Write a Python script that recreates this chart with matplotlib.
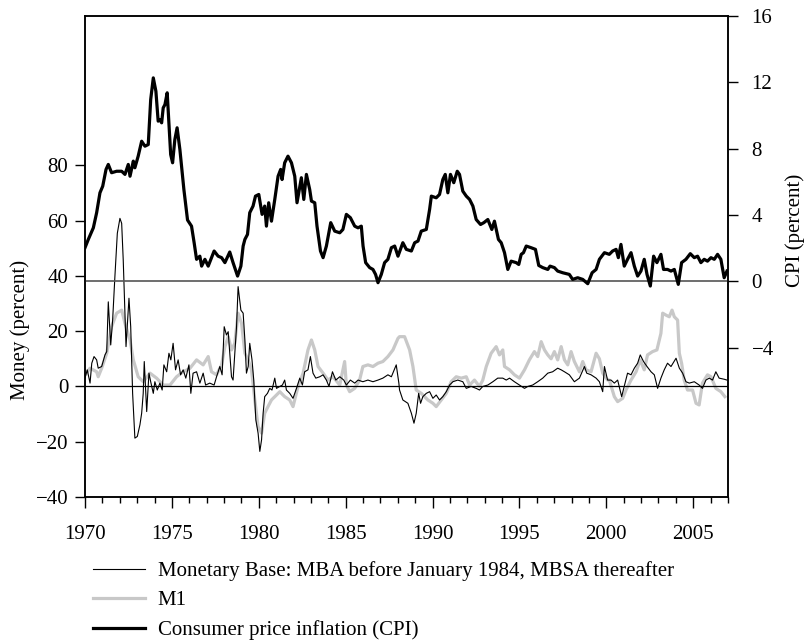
import matplotlib
matplotlib.use("Agg")
import matplotlib.pyplot as plt
from matplotlib.ticker import MultipleLocator
from matplotlib.lines import Line2D

plt.rcParams['font.family'] = ['Liberation Serif', 'DejaVu Serif']

# monetary base growth (percent)
mb_years = [1970.00, 1970.13, 1970.29, 1970.39, 1970.52, 1970.67, 1970.76, 1970.96, 1971.15, 1971.25,
            1971.34, 1971.48, 1971.59, 1971.72, 1971.86, 1972.01, 1972.11, 1972.20, 1972.26, 1972.36,
            1972.53, 1972.63, 1972.74, 1972.87, 1973.01, 1973.16, 1973.26, 1973.35, 1973.41, 1973.55,
            1973.68, 1973.78, 1973.93, 1974.02, 1974.16, 1974.31, 1974.44, 1974.54, 1974.70, 1974.83,
            1974.94, 1975.07, 1975.21, 1975.36, 1975.50, 1975.65, 1975.80, 1975.98, 1976.09, 1976.22,
            1976.42, 1976.61, 1976.80, 1976.94, 1977.18, 1977.43, 1977.57, 1977.76, 1977.89, 1978.01,
            1978.14, 1978.24, 1978.43, 1978.52, 1978.62, 1978.72, 1978.81, 1978.97, 1979.10, 1979.20,
            1979.29, 1979.39, 1979.48, 1979.61, 1979.71, 1979.83, 1979.96, 1980.06, 1980.16, 1980.25,
            1980.34, 1980.50, 1980.63, 1980.76, 1980.92, 1981.02, 1981.21, 1981.36, 1981.49, 1981.59,
            1981.78, 1981.97, 1982.17, 1982.36, 1982.51, 1982.64, 1982.83, 1982.97, 1983.12, 1983.28,
            1983.51, 1983.70, 1983.89, 1984.04, 1984.24, 1984.43, 1984.66, 1984.89, 1985.04, 1985.27,
            1985.52, 1985.71, 1985.99, 1986.28, 1986.57, 1986.86, 1987.14, 1987.43, 1987.63, 1987.91,
            1988.06, 1988.10, 1988.29, 1988.58, 1988.78, 1988.93, 1989.06, 1989.20, 1989.31, 1989.44,
            1989.64, 1989.83, 1990.02, 1990.21, 1990.40, 1990.59, 1990.79, 1990.98, 1991.17, 1991.45,
            1991.74, 1991.94, 1992.22, 1992.51, 1992.70, 1992.89, 1993.18, 1993.47, 1993.75, 1994.04,
            1994.24, 1994.43, 1994.71, 1995.00, 1995.29, 1995.48, 1995.76, 1996.05, 1996.34, 1996.63,
            1996.91, 1997.20, 1997.40, 1997.59, 1997.87, 1998.16, 1998.45, 1998.74, 1998.87, 1999.12,
            1999.41, 1999.60, 1999.79, 1999.89, 2000.07, 2000.27, 2000.46, 2000.65, 2000.88, 2001.03,
            2001.22, 2001.42, 2001.61, 2001.80, 2001.95, 2002.14, 2002.34, 2002.57, 2002.76, 2002.95,
            2003.14, 2003.33, 2003.52, 2003.72, 2004.01, 2004.20, 2004.39, 2004.58, 2004.77, 2005.06,
            2005.34, 2005.53, 2005.73, 2005.92, 2006.11, 2006.30, 2006.49, 2006.78, 2006.94]
mb_values = [3.0, 6.0, 1.2, 8.4, 10.8, 9.6, 6.6, 7.2, 11.4, 12.6,
             30.6, 15.0, 24.0, 39.7, 55.4, 60.8, 59.0, 45.7, 33.7, 14.4,
             31.9, 21.6, -2.5, -18.7, -18.1, -13.9, -9.7, -2.5, 9.0, -9.1,
             4.8, 1.7, -2.5, 1.7, -1.3, 1.2, -1.3, 7.8, 5.3, 12.0,
             9.6, 15.6, 6.0, 9.6, 4.2, 6.0, 3.0, 7.8, -2.5, 4.8,
             5.3, 1.2, 4.8, 0.5, 1.2, 0.5, 3.5, 7.2, 4.2, 21.6,
             18.6, 19.8, 3.5, 2.3, 12.0, 21.6, 36.1, 27.6, 26.5, 16.8,
             4.8, 7.2, 15.6, 9.6, 2.3, -12.1, -16.9, -23.5, -19.3, -9.7,
             -3.7, -2.5, -0.7, -1.3, 3.0, -0.7, 0.0, 0.5, 2.3, -1.3,
             -2.5, -4.3, -0.7, 3.0, 0.5, 5.3, 6.0, 10.8, 4.8, 3.0,
             3.5, 4.2, 2.3, 0.0, 5.3, 2.3, 3.5, 2.3, 0.5, 2.3,
             1.2, 2.3, 1.7, 2.3, 1.7, 2.3, 3.0, 4.2, 3.5, 7.8,
             1.2, -1.3, -4.9, -6.1, -9.7, -13.3, -9.7, -2.5, -6.1, -3.7,
             -2.5, -1.9, -4.3, -3.1, -4.9, -3.7, -1.9, 0.5, 1.7, 2.3,
             1.7, -0.7, 0.0, -0.7, -1.3, 0.0, 0.5, 1.7, 3.0, 3.0,
             2.3, 3.0, 1.7, 0.5, -0.7, 0.0, 0.5, 1.7, 3.0, 4.8,
             5.3, 6.6, 6.0, 5.3, 4.2, 1.7, 3.0, 7.2, 4.8, 4.2,
             3.0, 1.7, -1.9, 7.2, 2.3, 2.3, 1.2, 2.3, -3.7, 0.0,
             4.8, 4.2, 6.6, 8.4, 11.4, 9.0, 7.2, 5.3, 4.2, -0.7,
             3.0, 6.0, 8.4, 7.2, 10.2, 6.6, 4.8, 1.7, 1.2, 1.7,
             0.5, -0.7, 2.3, 3.0, 2.3, 5.3, 3.0, 2.6, 2.3]

# M1 growth (percent)
m1_years = [1970.00, 1970.29, 1970.67, 1970.76, 1970.96, 1971.25, 1971.53, 1971.82, 1972.11, 1972.30,
            1972.59, 1972.78, 1973.06, 1973.35, 1973.74, 1974.12, 1974.50, 1974.89, 1975.27, 1975.65,
            1976.03, 1976.42, 1976.80, 1977.09, 1977.28, 1977.57, 1977.86, 1978.05, 1978.24, 1978.43,
            1978.62, 1978.81, 1979.01, 1979.20, 1979.39, 1979.58, 1979.77, 1979.96, 1980.16, 1980.34,
            1980.53, 1980.73, 1980.92, 1981.21, 1981.49, 1981.78, 1981.97, 1982.26, 1982.55, 1982.83,
            1983.03, 1983.22, 1983.41, 1983.70, 1983.98, 1984.27, 1984.66, 1984.94, 1985.04, 1985.23,
            1985.52, 1985.80, 1985.99, 1986.28, 1986.57, 1986.86, 1987.14, 1987.43, 1987.72, 1988.01,
            1988.10, 1988.39, 1988.68, 1988.87, 1989.06, 1989.35, 1989.73, 1990.02, 1990.21, 1990.50,
            1990.79, 1991.07, 1991.36, 1991.65, 1991.94, 1992.13, 1992.41, 1992.70, 1992.89, 1993.09,
            1993.37, 1993.66, 1993.85, 1994.04, 1994.14, 1994.43, 1994.71, 1995.00, 1995.29, 1995.57,
            1995.86, 1996.05, 1996.25, 1996.44, 1996.63, 1996.82, 1997.01, 1997.20, 1997.40, 1997.59,
            1997.78, 1997.97, 1998.16, 1998.45, 1998.64, 1998.83, 1999.12, 1999.41, 1999.60, 1999.79,
            2000.07, 2000.17, 2000.46, 2000.65, 2000.94, 2001.13, 2001.42, 2001.71, 2001.95, 2002.18,
            2002.37, 2002.66, 2002.91, 2003.14, 2003.24, 2003.43, 2003.62, 2003.78, 2003.91, 2004.10,
            2004.20, 2004.33, 2004.48, 2004.67, 2004.96, 2005.16, 2005.34, 2005.53, 2005.82, 2006.02,
            2006.30, 2006.59, 2006.82]
m1_values = [4.2, 6.6, 5.3, 3.5, 6.6, 12.0, 21.6, 26.5, 27.6, 22.8,
             16.8, 9.6, 3.5, 1.7, 4.8, 3.0, 0.5, 0.5, 3.5, 5.3,
             6.5, 9.6, 7.8, 10.8, 5.3, 4.2, 7.8, 14.4, 18.0, 13.2,
             15.6, 26.5, 22.8, 12.0, 9.6, 6.0, -4.9, -14.5, -16.9, -9.7,
             -7.3, -4.9, -3.7, -1.9, -3.7, -4.9, -7.3, 0.0, 4.8, 13.2,
             16.8, 13.2, 7.2, 4.8, 2.3, 3.5, 0.5, 9.0, 0.5, -1.9,
             -0.7, 2.3, 7.2, 7.8, 7.2, 8.4, 9.0, 10.8, 13.2, 17.4,
             18.0, 18.0, 13.2, 7.2, -1.3, -2.5, -4.9, -6.1, -7.3, -4.9,
             -2.5, 1.7, 3.5, 3.0, 3.5, 0.5, 2.3, 0.0, 2.3, 7.2,
             12.0, 14.4, 11.4, 13.2, 7.2, 6.0, 4.2, 3.0, 6.0, 9.6,
             12.6, 10.8, 16.2, 13.2, 11.4, 10.0, 12.6, 9.6, 14.4, 9.6,
             7.8, 12.6, 9.0, 5.3, 9.0, 6.0, 5.3, 12.0, 10.0, 4.8,
             2.3, 2.3, -3.7, -5.5, -4.3, -1.3, 2.3, 5.3, 9.6, 6.0,
             11.4, 12.6, 13.2, 19.2, 26.5, 25.8, 25.2, 27.6, 25.2, 24.0,
             12.0, 8.4, 2.3, -1.3, -1.3, -6.1, -6.7, 1.2, 4.2, 3.5,
             -0.7, -1.9, -3.7]

# consumer price inflation (percent, right axis)
cpi_years = [1970.00, 1970.19, 1970.48, 1970.67, 1970.86, 1971.02, 1971.21, 1971.34, 1971.53, 1971.82,
             1972.11, 1972.30, 1972.49, 1972.59, 1972.78, 1972.87, 1973.06, 1973.26, 1973.45, 1973.64,
             1973.78, 1973.93, 1974.08, 1974.21, 1974.31, 1974.41, 1974.50, 1974.60, 1974.73, 1974.93,
             1975.04, 1975.17, 1975.30, 1975.46, 1975.69, 1975.90, 1976.13, 1976.28, 1976.42, 1976.61,
             1976.71, 1976.90, 1977.09, 1977.43, 1977.66, 1977.86, 1978.05, 1978.33, 1978.52, 1978.78,
             1978.97, 1979.10, 1979.20, 1979.35, 1979.48, 1979.67, 1979.81, 1980.00, 1980.19, 1980.34,
             1980.44, 1980.57, 1980.73, 1980.92, 1981.11, 1981.26, 1981.34, 1981.49, 1981.68, 1981.88,
             1982.07, 1982.20, 1982.45, 1982.59, 1982.74, 1982.93, 1983.03, 1983.22, 1983.35, 1983.55,
             1983.70, 1983.89, 1984.14, 1984.37, 1984.66, 1984.84, 1985.04, 1985.27, 1985.52, 1985.71,
             1985.90, 1986.00, 1986.15, 1986.38, 1986.57, 1986.72, 1986.86, 1987.05, 1987.24, 1987.43,
             1987.63, 1987.82, 1988.01, 1988.29, 1988.49, 1988.78, 1988.97, 1989.16, 1989.35, 1989.64,
             1989.83, 1989.93, 1990.21, 1990.40, 1990.59, 1990.73, 1990.88, 1991.03, 1991.22, 1991.42,
             1991.55, 1991.74, 1991.94, 1992.13, 1992.32, 1992.51, 1992.76, 1992.95, 1993.18, 1993.41,
             1993.56, 1993.79, 1993.95, 1994.14, 1994.33, 1994.52, 1994.81, 1994.96, 1995.10, 1995.23,
             1995.39, 1995.67, 1995.92, 1996.11, 1996.34, 1996.63, 1996.76, 1997.01, 1997.20, 1997.49,
             1997.87, 1998.06, 1998.35, 1998.64, 1998.93, 1999.18, 1999.41, 1999.60, 1999.89, 2000.17,
             2000.36, 2000.56, 2000.69, 2000.84, 2001.03, 2001.22, 2001.42, 2001.61, 2001.80, 2001.99,
             2002.18, 2002.34, 2002.53, 2002.72, 2002.91, 2003.14, 2003.29, 2003.52, 2003.72, 2003.91,
             2004.14, 2004.33, 2004.58, 2004.83, 2005.06, 2005.25, 2005.44, 2005.63, 2005.82, 2006.02,
             2006.21, 2006.40, 2006.59, 2006.78, 2006.94]
cpi_values = [2.03, 2.53, 3.23, 4.14, 5.34, 5.74, 6.75, 7.05, 6.55, 6.64,
              6.64, 6.45, 7.05, 6.34, 7.25, 6.85, 7.55, 8.45, 8.15, 8.25,
              10.96, 12.27, 11.46, 9.66, 9.76, 9.56, 10.46, 10.66, 11.37, 7.65,
              7.15, 8.55, 9.26, 7.95, 5.54, 3.70, 3.33, 2.33, 1.33, 1.52,
              0.92, 1.33, 0.92, 1.83, 1.52, 1.43, 1.13, 1.77, 1.13, 0.32,
              0.92, 2.13, 2.53, 2.83, 4.14, 4.54, 5.14, 5.24, 4.04, 4.54,
              3.33, 4.74, 3.63, 4.94, 6.34, 6.75, 6.14, 7.15, 7.55, 7.15,
              6.34, 4.74, 6.25, 4.94, 6.45, 5.54, 4.84, 4.74, 3.33, 1.83,
              1.43, 2.13, 3.54, 3.03, 2.93, 3.13, 4.04, 3.84, 3.33, 3.23,
              3.33, 2.13, 1.13, 0.83, 0.72, 0.42, -0.08, 0.42, 1.13, 1.33,
              2.03, 2.13, 1.52, 2.33, 1.93, 1.83, 2.33, 2.43, 3.03, 3.13,
              4.34, 5.14, 5.04, 5.24, 6.14, 6.45, 5.34, 6.45, 5.95, 6.64,
              6.45, 5.44, 5.14, 4.94, 4.54, 3.73, 3.43, 3.54, 3.73, 3.13,
              3.63, 2.53, 2.33, 1.73, 0.72, 1.22, 1.13, 1.02, 1.63, 1.73,
              2.13, 2.03, 1.93, 0.96, 0.83, 0.72, 0.92, 0.83, 0.62, 0.52,
              0.42, 0.12, 0.22, 0.12, -0.14, 0.52, 0.72, 1.33, 1.73, 1.63,
              1.83, 1.93, 1.43, 2.23, 0.92, 1.33, 1.73, 0.92, 0.32, 0.62,
              1.33, 0.42, -0.28, 1.52, 1.13, 1.63, 0.72, 0.72, 0.62, 0.72,
              -0.18, 1.13, 1.33, 1.67, 1.43, 1.52, 1.13, 1.33, 1.22, 1.43,
              1.33, 1.63, 1.33, 0.22, 0.62]

labels = ['Monetary Base: MBA before January 1984, MBSA thereafter', 'M1',
          'Consumer price inflation (CPI)']

fs = 15
fig = plt.figure(figsize=(8.1, 6.41), dpi=100)
ax = fig.add_axes([85 / 810, 1 - 497 / 641, (728 - 85) / 810, (497 - 16) / 641])

ax.plot(m1_years, m1_values, color='#c8c8c8', lw=2.3, solid_joinstyle='round')
ax.plot(mb_years, mb_values, color='black', lw=0.8)
ax.axhline(0, color='black', lw=0.9)

ax.set_xlim(1970, 2007)
ax.set_ylim(-40, 134)
ax.set_yticks(range(-40, 81, 20))
ax.xaxis.set_major_locator(MultipleLocator(5))
ax.xaxis.set_minor_locator(MultipleLocator(1))
ax.tick_params(axis='x', which='major', direction='out', length=8, width=1, pad=12, labelsize=fs)
ax.tick_params(axis='x', which='minor', direction='out', length=4, width=1)
ax.tick_params(axis='y', direction='out', length=7, width=1, pad=5, labelsize=fs)

ax2 = ax.twinx()
ax2.axhline(0, color='#555555', lw=1.2)
ax2.plot(cpi_years, cpi_values, color='black', lw=2.3, solid_joinstyle='round')
ax2.set_ylim(-13, 16)
ax2.set_yticks(range(-4, 17, 4))
ax2.tick_params(axis='y', direction='out', length=7, width=1, pad=10, labelsize=fs)

for a in (ax, ax2):
    for s in a.spines.values():
        s.set_linewidth(1.1)

fig.text(20 / 810, 1 - 330 / 641, 'Money (percent)', rotation=90, ha='center', va='center', fontsize=fs)
fig.text(795 / 810, 1 - 230 / 641, 'CPI (percent)', rotation=90, ha='center', va='center', fontsize=fs)

handles = [Line2D([], [], color='black', lw=0.8),
           Line2D([], [], color='#c8c8c8', lw=2.3),
           Line2D([], [], color='black', lw=2.3)]
fig.legend(handles, labels, loc='upper left', bbox_to_anchor=(93 / 810, 1 - 561 / 641),
           frameon=False, fontsize=fs, handlelength=2.5, handletextpad=0.6,
           labelspacing=0.48, borderpad=0, borderaxespad=0)

fig.savefig('out.png', dpi=100)
